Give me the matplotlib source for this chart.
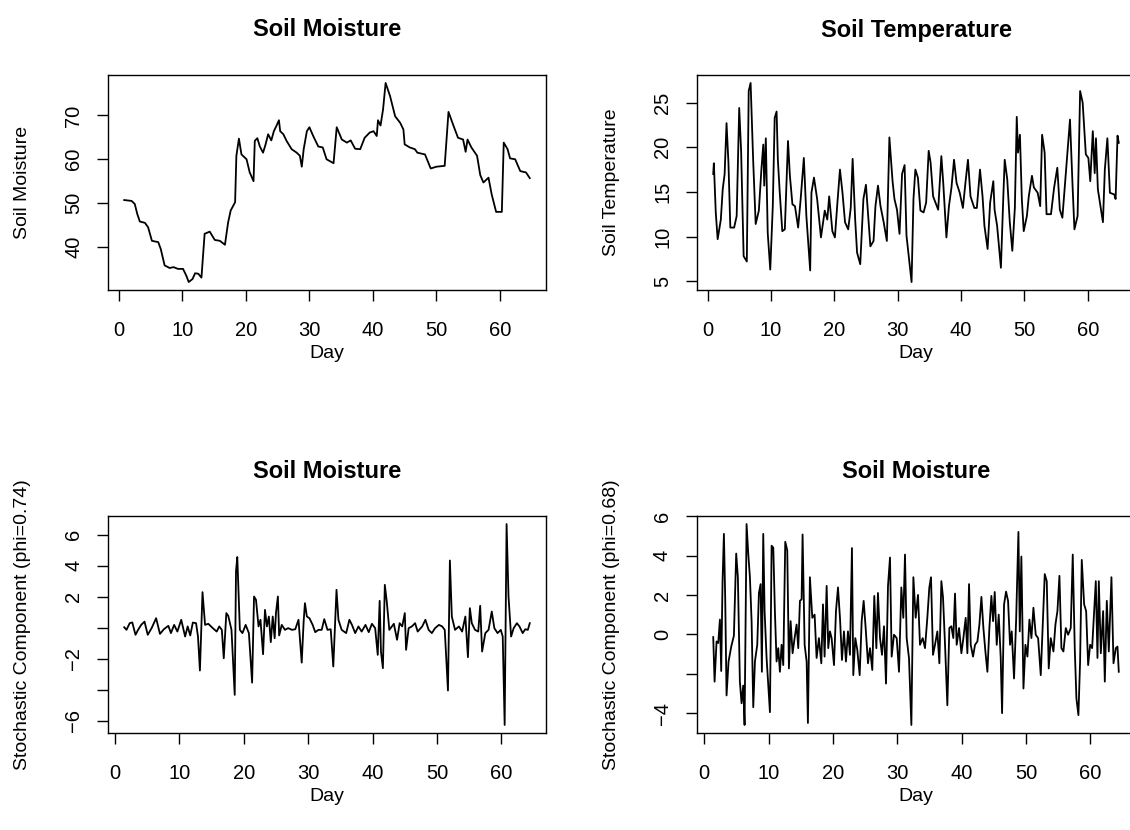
import matplotlib
matplotlib.use("Agg")
import matplotlib.pyplot as plt

plt.rcParams["font.family"] = ["Liberation Sans", "DejaVu Sans"]

# --- Soil moisture (raw) ---
sm_day = [0.84, 2.0, 2.5, 2.9, 3.3, 4.1, 4.6, 5.2, 6.2, 6.6,
          7.2, 8.0, 8.6, 9.3, 10.1, 10.6, 11.0, 11.6, 12.0, 12.5,
          13.0, 13.5, 14.3, 15.1, 15.9, 16.7, 17.2, 17.6, 18.3, 18.5,
          18.9, 19.3, 20.1, 20.6, 21.2, 21.4, 21.8, 22.2, 22.7, 23.1,
          23.5, 24.0, 24.4, 24.8, 25.2, 25.4, 25.9, 26.4, 27.2, 28.0,
          28.5, 28.8, 29.1, 29.6, 30.0, 30.6, 31.4, 32.1, 32.7, 33.8,
          34.3, 35.1, 35.9, 36.5, 37.2, 38.0, 38.7, 39.5, 40.1, 40.6,
          40.8, 41.2, 41.6, 42.0, 42.7, 43.5, 44.3, 44.8, 45.0, 45.8,
          46.6, 47.0, 48.2, 49.1, 50.0, 51.3, 51.9, 52.7, 53.4, 54.2,
          54.6, 54.9, 55.5, 56.4, 56.9, 57.4, 58.2, 58.7, 59.4, 60.3,
          60.6, 61.2, 61.6, 62.4, 63.2, 64.1, 64.7]
sm_val = [50.7, 50.5, 49.8, 47.5, 45.8, 45.5, 44.5, 41.4, 41.1, 39.5,
          35.8, 35.2, 35.4, 35.0, 35.0, 33.5, 32.0, 32.7, 34.0, 33.9,
          33.0, 43.0, 43.5, 41.6, 41.4, 40.5, 45.6, 48.3, 50.2, 60.8,
          64.7, 61.1, 60.0, 57.0, 55.0, 64.2, 64.8, 62.9, 61.5, 63.4,
          65.7, 64.3, 66.4, 67.6, 68.9, 66.4, 65.7, 64.2, 62.3, 61.5,
          60.8, 58.3, 62.3, 66.4, 67.3, 65.3, 62.9, 62.7, 60.0, 59.1,
          67.3, 64.5, 63.8, 64.3, 62.4, 62.3, 64.9, 66.1, 66.4, 65.3,
          68.9, 67.7, 71.4, 77.4, 74.4, 69.8, 68.3, 66.8, 63.4, 62.7,
          62.3, 61.5, 61.1, 57.9, 58.3, 58.5, 70.8, 67.6, 64.9, 64.5,
          61.7, 64.5, 62.7, 60.8, 56.4, 54.7, 55.8, 52.0, 48.0, 48.0,
          63.8, 62.3, 60.2, 60.0, 57.3, 57.0, 55.7]

# --- Soil temperature (raw) ---
st_day = [0.9, 1.0, 1.3, 1.6, 2.1, 2.4, 2.7, 3.0, 3.3, 3.6,
          4.2, 4.6, 5.0, 5.3, 5.7, 6.2, 6.5, 6.8, 7.2, 7.6,
          8.1, 8.5, 8.8, 8.95, 9.2, 9.5, 9.9, 10.3, 10.6, 10.9,
          11.1, 11.4, 11.8, 12.2, 12.7, 13.0, 13.4, 13.8, 14.3, 14.7,
          15.2, 15.6, 16.2, 16.4, 16.8, 17.3, 17.9, 18.5, 18.9, 19.2,
          19.7, 20.1, 20.5, 20.9, 21.3, 21.7, 22.2, 22.6, 22.9, 23.3,
          23.6, 24.1, 24.6, 25.0, 25.3, 25.7, 26.2, 26.5, 26.9, 27.3,
          27.8, 28.3, 28.7, 29.2, 29.5, 29.9, 30.3, 30.7, 31.1, 31.4,
          31.8, 32.2, 32.5, 32.8, 33.2, 33.6, 34.1, 34.5, 34.9, 35.2,
          35.6, 36.4, 36.9, 37.2, 37.7, 38.1, 38.5, 38.9, 39.3, 39.8,
          40.3, 40.7, 41.1, 41.5, 42.1, 42.5, 43.0, 43.4, 43.7, 44.2,
          44.6, 45.1, 45.3, 45.7, 46.3, 46.7, 46.9, 47.3, 47.7, 48.1,
          48.5, 48.8, 49.0, 49.3, 49.6, 49.9, 50.4, 50.7, 51.2, 51.5,
          52.1, 52.5, 52.8, 53.2, 53.5, 54.2, 54.7, 55.2, 55.6, 56.0,
          56.8, 57.2, 57.6, 57.9, 58.4, 58.8, 59.2, 59.7, 60.1, 60.4,
          60.8, 61.1, 61.3, 61.6, 62.1, 62.4, 62.7, 63.1, 63.5, 64.2,
          64.4, 64.7, 64.9]
st_val = [17.0, 18.2, 12.7, 9.7, 11.9, 15.3, 17.0, 22.7, 18.3, 11.0,
          11.0, 12.3, 24.4, 19.6, 7.8, 7.2, 26.3, 27.2, 18.6, 11.4,
          12.9, 17.5, 20.3, 15.7, 21.0, 10.4, 6.3, 13.4, 23.3, 24.0,
          18.6, 14.9, 10.6, 10.8, 20.7, 16.8, 13.6, 13.4, 11.0, 14.2,
          18.8, 12.3, 6.2, 14.9, 16.6, 14.2, 9.9, 12.9, 11.9, 14.5,
          10.6, 9.9, 13.8, 17.5, 14.9, 11.6, 10.8, 13.2, 18.7, 11.9,
          8.2, 6.9, 14.2, 15.8, 12.9, 8.9, 9.5, 13.4, 15.7, 13.4,
          11.6, 9.5, 21.1, 16.2, 14.2, 13.0, 10.3, 17.0, 18.0, 10.1,
          7.5, 4.9, 14.2, 17.5, 16.6, 12.9, 12.7, 13.8, 19.6, 18.3,
          14.5, 13.0, 19.0, 16.0, 9.9, 13.4, 15.5, 18.6, 16.0, 14.9,
          13.2, 16.0, 18.6, 14.5, 13.2, 13.2, 17.5, 14.5, 11.2, 8.6,
          13.8, 16.2, 13.0, 11.2, 6.5, 14.9, 18.6, 16.4, 11.6, 8.4,
          13.2, 23.4, 19.4, 21.4, 14.2, 10.6, 12.3, 14.5, 16.8, 15.5,
          14.9, 13.4, 21.4, 19.4, 12.5, 12.5, 15.5, 17.7, 13.0, 12.1,
          19.4, 23.1, 15.8, 10.8, 12.3, 26.3, 25.0, 19.2, 18.8, 16.2,
          21.8, 17.1, 21.0, 15.3, 13.0, 11.6, 17.5, 21.0, 14.9, 14.7,
          14.2, 21.3, 20.5]

# --- Stochastic component, soil moisture (phi=0.74) ---
r1_day = [1.45, 1.8, 2.3, 2.7, 3.2, 3.6, 4.1, 4.6, 5.1, 5.7,
          6.4, 7.0, 7.6, 8.3, 8.7, 9.2, 9.7, 10.3, 10.9, 11.3,
          11.7, 12.1, 12.6, 12.9, 13.2, 13.6, 14.0, 14.5, 15.2, 15.8,
          16.2, 16.6, 16.9, 17.3, 17.6, 18.1, 18.6, 18.8, 19.0, 19.2,
          19.4, 19.8, 20.3, 20.8, 21.3, 21.6, 21.9, 22.3, 22.6, 23.0,
          23.3, 23.6, 23.9, 24.2, 24.5, 24.8, 25.0, 25.3, 25.5, 25.9,
          26.4, 26.9, 27.5, 28.0, 28.5, 29.0, 29.3, 29.5, 29.8, 30.2,
          30.7, 31.1, 31.6, 32.1, 32.5, 33.0, 33.5, 33.9, 34.4, 34.7,
          35.2, 35.9, 36.4, 36.8, 37.3, 37.8, 38.3, 38.9, 39.4, 39.9,
          40.4, 40.8, 41.1, 41.3, 41.6, 41.9, 42.2, 42.6, 43.3, 43.8,
          44.2, 44.6, 45.0, 45.2, 45.6, 46.1, 46.6, 47.0, 47.7, 48.2,
          48.7, 49.2, 49.7, 50.3, 50.8, 51.2, 51.7, 52.0, 52.3, 52.8,
          53.4, 53.9, 54.4, 54.8, 55.1, 55.4, 55.9, 56.4, 56.7, 57.0,
          57.5, 58.0, 58.5, 58.9, 59.4, 59.9, 60.2, 60.5, 60.8, 61.1,
          61.5, 61.9, 62.4, 62.8, 63.3, 63.7, 64.1, 64.4]
r1_val = [0.04, -0.13, 0.3, 0.35, -0.45, -0.13, 0.2, 0.4, -0.45, -0.02,
          0.62, -0.39, -0.09, 0.13, -0.34, 0.19, -0.24, 0.52, -0.56, 0.09,
          -0.49, 0.34, 0.3, -0.56, -2.75, 2.3, 0.19, 0.26, -0.02, -0.24,
          0.09, -0.13, -1.96, 0.95, 0.77, -0.13, -4.32, 3.63, 4.56, 2.13,
          -0.13, -0.34, 0.19, -0.34, -3.53, 2.02, 1.81, 0.09, 0.52, -1.7,
          1.16, 0.09, 0.73, -0.92, 0.73, -0.67, 0.95, 2.02, -0.49, 0.19,
          -0.13, -0.02, -0.13, -0.09, 0.52, -2.24, 0.41, 1.59, 0.73, 0.62,
          0.19, -0.28, -0.13, -0.13, 0.56, -0.13, -0.09, -2.49, 2.45, 0.52,
          -0.13, -0.34, 0.52, 0.19, -0.34, 0.09, -0.24, 0.19, -0.28, 0.26,
          -0.02, -1.74, 1.74, -1.53, -2.6, 2.77, 1.7, -0.13, 0.26, -0.77,
          0.3, 0.09, 0.95, -1.42, -0.02, 0.09, 0.3, -0.24, 0.09, 0.52,
          -0.13, -0.34, -0.02, 0.19, 0.09, -0.13, -4.04, 4.34, 0.73, -0.13,
          0.09, -0.24, 0.73, -1.89, 1.27, 0.3, -0.13, -0.24, 1.42, -1.53,
          -0.34, -0.13, 1.05, -0.02, -0.34, -0.13, -0.56, -6.26, 6.69, 2.02,
          -0.56, -0.02, 0.3, 0.09, -0.34, -0.09, -0.13, 0.3]

# --- Stochastic component, second series (phi=0.68) ---
r2_day = [1.40, 1.61, 1.92, 2.18, 2.44, 2.64, 2.85, 3.06, 3.26, 3.47,
          3.78, 4.20, 4.61, 4.97, 5.23, 5.54, 5.80, 6.06, 6.27, 6.58,
          6.84, 7.10, 7.36, 7.62, 7.88, 8.24, 8.50, 8.76, 8.96, 9.17,
          9.38, 9.69, 9.95, 10.21, 10.47, 10.73, 10.98, 11.24, 11.50, 11.76,
          12.02, 12.28, 12.59, 12.90, 13.16, 13.42, 13.73, 14.04, 14.35, 14.61,
          14.87, 15.13, 15.28, 15.60, 15.91, 16.11, 16.42, 16.79, 17.15, 17.46,
          17.82, 18.19, 18.45, 18.70, 19.02, 19.27, 19.53, 19.79, 20.16, 20.47,
          20.78, 21.09, 21.40, 21.71, 22.02, 22.33, 22.64, 22.95, 23.16, 23.47,
          23.78, 24.15, 24.46, 24.77, 25.08, 25.44, 25.75, 26.11, 26.42, 26.74,
          26.99, 27.31, 27.62, 27.93, 28.24, 28.55, 28.86, 29.12, 29.48, 29.90,
          30.26, 30.62, 30.93, 31.19, 31.45, 31.81, 32.18, 32.49, 32.85, 33.21,
          33.52, 33.94, 34.30, 34.66, 34.97, 35.23, 35.54, 35.85, 36.22, 36.53,
          36.84, 37.10, 37.41, 37.77, 38.08, 38.39, 38.70, 38.96, 39.22, 39.59,
          39.95, 40.26, 40.62, 40.88, 41.14, 41.40, 41.76, 42.07, 42.44, 42.75,
          43.06, 43.37, 43.68, 43.99, 44.30, 44.61, 44.87, 45.13, 45.44, 45.75,
          46.06, 46.27, 46.58, 46.89, 47.20, 47.51, 47.77, 48.13, 48.45, 48.81,
          49.02, 49.27, 49.59, 49.90, 50.21, 50.52, 50.83, 51.14, 51.50, 51.87,
          52.28, 52.64, 52.90, 53.21, 53.52, 53.83, 54.25, 54.56, 54.87, 55.18,
          55.49, 55.80, 56.17, 56.53, 56.94, 57.25, 57.56, 57.82, 58.13, 58.39,
          58.65, 59.02, 59.33, 59.64, 59.95, 60.26, 60.57, 60.83, 61.09, 61.30,
          61.61, 61.97, 62.23, 62.54, 62.85, 63.26, 63.58, 63.94, 64.20, 64.40]
r2_val = [-0.14, -2.4, -0.36, -0.44, 0.75, -1.86, 2.7, 5.1, 1.86, -3.1,
          -1.38, -0.62, -0.07, 4.1, 2.9, -2.4, -3.5, -2.6, -4.6, 5.6,
          4.1, 2.9, 0.67, -3.7, -1.38, -0.53, 2.1, 2.55, -1.9, 5.1,
          1.18, -1.2, -2.6, -3.95, 4.5, 4.4, 1.18, -1.38, -0.7, -1.9,
          -0.53, -1.56, 4.7, 4.26, -1.73, 0.67, -0.96, -0.19, 0.5, -0.7,
          1.7, 1.78, 5.07, -0.53, -1.38, -4.5, 2.9, 0.84, 1.0, -1.2,
          -0.19, -1.47, 1.52, -1.13, 2.46, -0.7, 0.15, -0.19, -1.56, 1.18,
          2.38, 0.84, -1.3, 0.15, -1.38, 0.15, -1.04, 4.38, -2.07, -0.19,
          -0.79, -2.07, 0.67, 1.7, 0.32, -1.47, -0.7, -1.81, 1.95, -0.7,
          2.1, -0.19, -1.04, 0.41, -2.5, 2.46, 3.9, -1.13, -0.02, -0.19,
          -1.9, 2.38, 0.84, 4.05, -0.19, -1.2, -4.6, 2.9, 0.84, 2.0,
          -0.53, -0.19, -0.7, 0.84, 2.38, 2.9, -1.04, -0.53, 0.15, -1.47,
          2.7, 1.86, -0.53, -3.6, 0.32, 0.41, -0.19, 2.07, -0.53, 0.32,
          -0.96, -0.19, 0.84, -0.96, 2.55, -0.53, -1.13, -0.53, -0.36, 0.5,
          1.9, 0.32, -0.87, -1.9, 0.32, 1.95, 0.67, 2.15, -0.53, 1.0,
          -1.2, -4.0, 1.52, 2.17, 1.7, -0.53, 0.15, -2.24, 0.67, 5.2,
          0.15, 3.95, -2.75, -0.53, -1.13, 0.75, -0.19, 1.35, -0.02, -0.19,
          -2.07, 0.92, 3.06, 2.7, -1.73, -0.19, -0.87, 0.5, 1.18, 2.97,
          -0.7, -0.87, 0.32, -0.02, 0.32, 4.05, -0.7, -3.26, -4.1, -1.38,
          3.78, 1.52, 1.18, -1.56, -0.53, -0.7, 1.18, 2.7, -1.2, 2.7,
          -0.96, 1.18, -2.4, 1.7, -0.87, 2.9, -1.47, -0.7, -0.62, -1.9]

x_ticks = [0, 10, 20, 30, 40, 50, 60]

# (days, values, left px, top px, height px, title, ylabel, yticks, yticklabels)
panels = [
    (sm_day, sm_val, 108, 75, 215, "Soil Moisture", "Soil Moisture",
     [40, 50, 60, 70], ["40", "50", "60", "70"]),
    (st_day, st_val, 697, 75, 215, "Soil Temperature", "Soil Temperature",
     [5, 10, 15, 20, 25], ["5", "10", "15", "20", "25"]),
    (r1_day, r1_val, 108, 516, 217, "Soil Moisture", "Stochastic Component (phi=0.74)",
     [-6, -4, -2, 0, 2, 4, 6], ["\u22126", "", "\u22122", "", "2", "4", "6"]),
    (r2_day, r2_val, 697, 516, 217, "Soil Moisture", "Stochastic Component (phi=0.68)",
     [-4, -2, 0, 2, 4, 6], ["\u22124", "", "0", "2", "4", "6"]),
]

W, H = 1130, 830
PW = 438
fig = plt.figure(figsize=(W / 100, H / 100), dpi=100)

for days, vals, left, top, h, title, ylab, yt, ytl in panels:
    ax = fig.add_axes([left / W, 1 - (top + h) / H, PW / W, h / H])
    ax.plot(days, vals, color="black", lw=1.3)
    ax.margins(x=0.04, y=0.04)
    ax.set_xticks(x_ticks)
    ax.set_yticks(yt)
    ax.set_yticklabels(ytl, rotation=90, va="center")
    ax.tick_params(direction="out", length=8, width=1.0, labelsize=14.5, color="black")
    ax.tick_params(axis="x", pad=14)
    ax.tick_params(axis="y", pad=10)
    for sp in ax.spines.values():
        sp.set_linewidth(1.0)
    ax.text(0.5, 1 + 45 / h, title, transform=ax.transAxes, ha="center", va="center",
            fontsize=17, fontweight="bold")
    ax.text(0.5, -63 / h, "Day", transform=ax.transAxes, ha="center", va="center", fontsize=14)
    ylab_x = 23 if left < 300 else 612
    ax.text((ylab_x - left) / PW, 0.5, ylab, transform=ax.transAxes, ha="center", va="center",
            rotation=90, fontsize=14)

fig.savefig("out.png", dpi=100)
